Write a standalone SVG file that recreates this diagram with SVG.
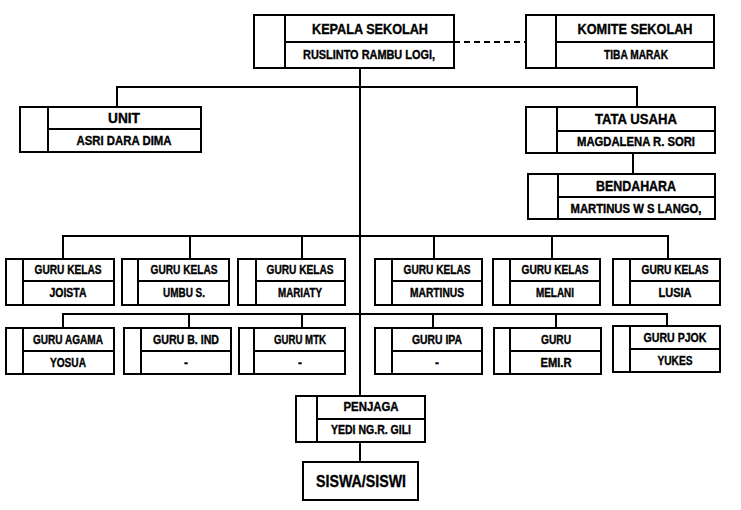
<svg xmlns="http://www.w3.org/2000/svg" width="741" height="510" viewBox="0 0 741 510">
<style>
.b{fill:#fff;stroke:#000;stroke-width:2}
.l{stroke:#000;stroke-width:2;fill:none}
text{font-family:"Liberation Sans",Arial,sans-serif;font-weight:bold;text-anchor:middle;fill:#000;stroke:#000;stroke-width:0.35}
.t{font-size:14px}
.n{font-size:12px}
.g{font-size:12px}
</style>
<rect width="741" height="510" fill="#fff"/>
<g id="connectors">
<line class="l" x1="360" y1="68" x2="360" y2="396"/>
<line class="l" x1="360" y1="442" x2="360" y2="462"/>
<line class="l" x1="454" y1="42" x2="526" y2="42" stroke-dasharray="6,4"/>
<polyline class="l" points="117,107 117,87 637,87 637,107"/>
<line class="l" x1="633" y1="153" x2="633" y2="174"/>
<polyline class="l" points="63,259 63,236 668,236 668,259"/>
<line class="l" x1="190" y1="236" x2="190" y2="259"/>
<line class="l" x1="302" y1="236" x2="302" y2="259"/>
<line class="l" x1="434" y1="236" x2="434" y2="259"/>
<line class="l" x1="552" y1="236" x2="552" y2="259"/>
<polyline class="l" points="63,328 63,314 667,314 667,326"/>
<line class="l" x1="189" y1="314" x2="189" y2="328"/>
<line class="l" x1="302" y1="314" x2="302" y2="328"/>
<line class="l" x1="433" y1="314" x2="433" y2="328"/>
<line class="l" x1="556" y1="314" x2="556" y2="328"/>
</g>
<g id="kepala">
<rect class="b" x="254" y="15" width="200" height="53"/>
<line class="l" x1="285" y1="15" x2="285" y2="68"/>
<line class="l" x1="285" y1="42" x2="454" y2="42"/>
<text class="t" x="370" y="34" textLength="116" lengthAdjust="spacingAndGlyphs">KEPALA SEKOLAH</text>
<text class="n" x="369" y="59" textLength="132" lengthAdjust="spacingAndGlyphs">RUSLINTO RAMBU LOGI,</text>
</g>
<g id="komite">
<rect class="b" x="526" y="15" width="188" height="53"/>
<line class="l" x1="556" y1="15" x2="556" y2="68"/>
<line class="l" x1="556" y1="42" x2="714" y2="42"/>
<text class="t" x="635" y="34" textLength="115" lengthAdjust="spacingAndGlyphs">KOMITE SEKOLAH</text>
<text class="n" x="636" y="59" textLength="64" lengthAdjust="spacingAndGlyphs">TIBA MARAK</text>
</g>
<g id="unit">
<rect class="b" x="20" y="107" width="181" height="45"/>
<line class="l" x1="48" y1="107" x2="48" y2="152"/>
<line class="l" x1="48" y1="129" x2="201" y2="129"/>
<text class="t" x="124" y="123" textLength="32" lengthAdjust="spacingAndGlyphs">UNIT</text>
<text class="n" x="124" y="145" textLength="95" lengthAdjust="spacingAndGlyphs">ASRI DARA DIMA</text>
</g>
<g id="tatausaha">
<rect class="b" x="526" y="107" width="189" height="46"/>
<line class="l" x1="557" y1="107" x2="557" y2="153"/>
<line class="l" x1="557" y1="131" x2="715" y2="131"/>
<text class="t" x="636" y="124" textLength="82" lengthAdjust="spacingAndGlyphs">TATA USAHA</text>
<text class="n" x="636" y="146" textLength="118" lengthAdjust="spacingAndGlyphs">MAGDALENA R. SORI</text>
</g>
<g id="bendahara">
<rect class="b" x="528" y="174" width="187" height="45"/>
<line class="l" x1="558" y1="174" x2="558" y2="219"/>
<line class="l" x1="558" y1="197" x2="715" y2="197"/>
<text class="t" x="636" y="191" textLength="80" lengthAdjust="spacingAndGlyphs">BENDAHARA</text>
<text class="n" x="636" y="213" textLength="131" lengthAdjust="spacingAndGlyphs">MARTINUS W S LANGO,</text>
</g>
<g id="gk1">
<rect class="b" x="6" y="259" width="108" height="46"/>
<line class="l" x1="23" y1="259" x2="23" y2="305"/>
<line class="l" x1="23" y1="281" x2="114" y2="281"/>
<text class="g" x="68" y="274" textLength="67" lengthAdjust="spacingAndGlyphs">GURU KELAS</text>
<text class="g" x="68" y="297" textLength="37" lengthAdjust="spacingAndGlyphs">JOISTA</text>
</g>
<g id="gk2">
<rect class="b" x="122" y="259" width="107" height="46"/>
<line class="l" x1="138" y1="259" x2="138" y2="305"/>
<line class="l" x1="138" y1="281" x2="229" y2="281"/>
<text class="g" x="184" y="274" textLength="67" lengthAdjust="spacingAndGlyphs">GURU KELAS</text>
<text class="g" x="184" y="297" textLength="42" lengthAdjust="spacingAndGlyphs">UMBU S.</text>
</g>
<g id="gk3">
<rect class="b" x="238" y="259" width="107" height="46"/>
<line class="l" x1="256" y1="259" x2="256" y2="305"/>
<line class="l" x1="256" y1="281" x2="345" y2="281"/>
<text class="g" x="300" y="274" textLength="67" lengthAdjust="spacingAndGlyphs">GURU KELAS</text>
<text class="g" x="300" y="297" textLength="44" lengthAdjust="spacingAndGlyphs">MARIATY</text>
</g>
<g id="gk4">
<rect class="b" x="375" y="259" width="107" height="46"/>
<line class="l" x1="392" y1="259" x2="392" y2="305"/>
<line class="l" x1="392" y1="281" x2="482" y2="281"/>
<text class="g" x="437" y="274" textLength="67" lengthAdjust="spacingAndGlyphs">GURU KELAS</text>
<text class="g" x="437" y="297" textLength="54" lengthAdjust="spacingAndGlyphs">MARTINUS</text>
</g>
<g id="gk5">
<rect class="b" x="493" y="259" width="107" height="46"/>
<line class="l" x1="510" y1="259" x2="510" y2="305"/>
<line class="l" x1="510" y1="281" x2="600" y2="281"/>
<text class="g" x="555" y="274" textLength="67" lengthAdjust="spacingAndGlyphs">GURU KELAS</text>
<text class="g" x="555" y="297" textLength="38" lengthAdjust="spacingAndGlyphs">MELANI</text>
</g>
<g id="gk6">
<rect class="b" x="613" y="259" width="107" height="46"/>
<line class="l" x1="630" y1="259" x2="630" y2="305"/>
<line class="l" x1="630" y1="281" x2="720" y2="281"/>
<text class="g" x="675" y="274" textLength="67" lengthAdjust="spacingAndGlyphs">GURU KELAS</text>
<text class="g" x="675" y="297" textLength="33" lengthAdjust="spacingAndGlyphs">LUSIA</text>
</g>
<g id="ga">
<rect class="b" x="6" y="328" width="108" height="46"/>
<line class="l" x1="23" y1="328" x2="23" y2="374"/>
<line class="l" x1="23" y1="351" x2="114" y2="351"/>
<text class="g" x="68" y="344" textLength="70" lengthAdjust="spacingAndGlyphs">GURU AGAMA</text>
<text class="g" x="68" y="367" textLength="36" lengthAdjust="spacingAndGlyphs">YOSUA</text>
</g>
<g id="gbi">
<rect class="b" x="124" y="328" width="107" height="46"/>
<line class="l" x1="141" y1="328" x2="141" y2="374"/>
<line class="l" x1="141" y1="351" x2="231" y2="351"/>
<text class="g" x="186" y="344" textLength="66" lengthAdjust="spacingAndGlyphs">GURU B. IND</text>
<text class="g" x="186" y="367">-</text>
</g>
<g id="gmtk">
<rect class="b" x="239" y="328" width="106" height="46"/>
<line class="l" x1="254" y1="328" x2="254" y2="374"/>
<line class="l" x1="254" y1="351" x2="345" y2="351"/>
<text class="g" x="300" y="344" textLength="52" lengthAdjust="spacingAndGlyphs">GURU MTK</text>
<text class="g" x="300" y="367">-</text>
</g>
<g id="gipa">
<rect class="b" x="375" y="328" width="107" height="46"/>
<line class="l" x1="392" y1="328" x2="392" y2="374"/>
<line class="l" x1="392" y1="351" x2="482" y2="351"/>
<text class="g" x="437" y="344" textLength="50" lengthAdjust="spacingAndGlyphs">GURU IPA</text>
<text class="g" x="437" y="367">-</text>
</g>
<g id="guru">
<rect class="b" x="494" y="328" width="107" height="46"/>
<line class="l" x1="510" y1="328" x2="510" y2="374"/>
<line class="l" x1="510" y1="351" x2="601" y2="351"/>
<text class="g" x="556" y="344" textLength="30" lengthAdjust="spacingAndGlyphs">GURU</text>
<text class="g" x="556" y="367" textLength="31" lengthAdjust="spacingAndGlyphs">EMI.R</text>
</g>
<g id="gpjok">
<rect class="b" x="613" y="326" width="107" height="46"/>
<line class="l" x1="630" y1="326" x2="630" y2="372"/>
<line class="l" x1="630" y1="349" x2="720" y2="349"/>
<text class="g" x="675" y="342" textLength="63" lengthAdjust="spacingAndGlyphs">GURU PJOK</text>
<text class="g" x="675" y="365" textLength="35" lengthAdjust="spacingAndGlyphs">YUKES</text>
</g>
<g id="penjaga">
<rect class="b" x="296" y="396" width="129" height="46"/>
<line class="l" x1="317" y1="396" x2="317" y2="442"/>
<line class="l" x1="317" y1="419" x2="425" y2="419"/>
<text class="g" x="371" y="411" textLength="55" lengthAdjust="spacingAndGlyphs">PENJAGA</text>
<text class="g" x="371" y="434" textLength="80" lengthAdjust="spacingAndGlyphs">YEDI NG.R. GILI</text>
</g>
<g id="siswa">
<rect class="b" x="303" y="462" width="115" height="38"/>
<text x="361" y="487" font-size="17" textLength="90" lengthAdjust="spacingAndGlyphs">SISWA/SISWI</text>
</g>
</svg>
